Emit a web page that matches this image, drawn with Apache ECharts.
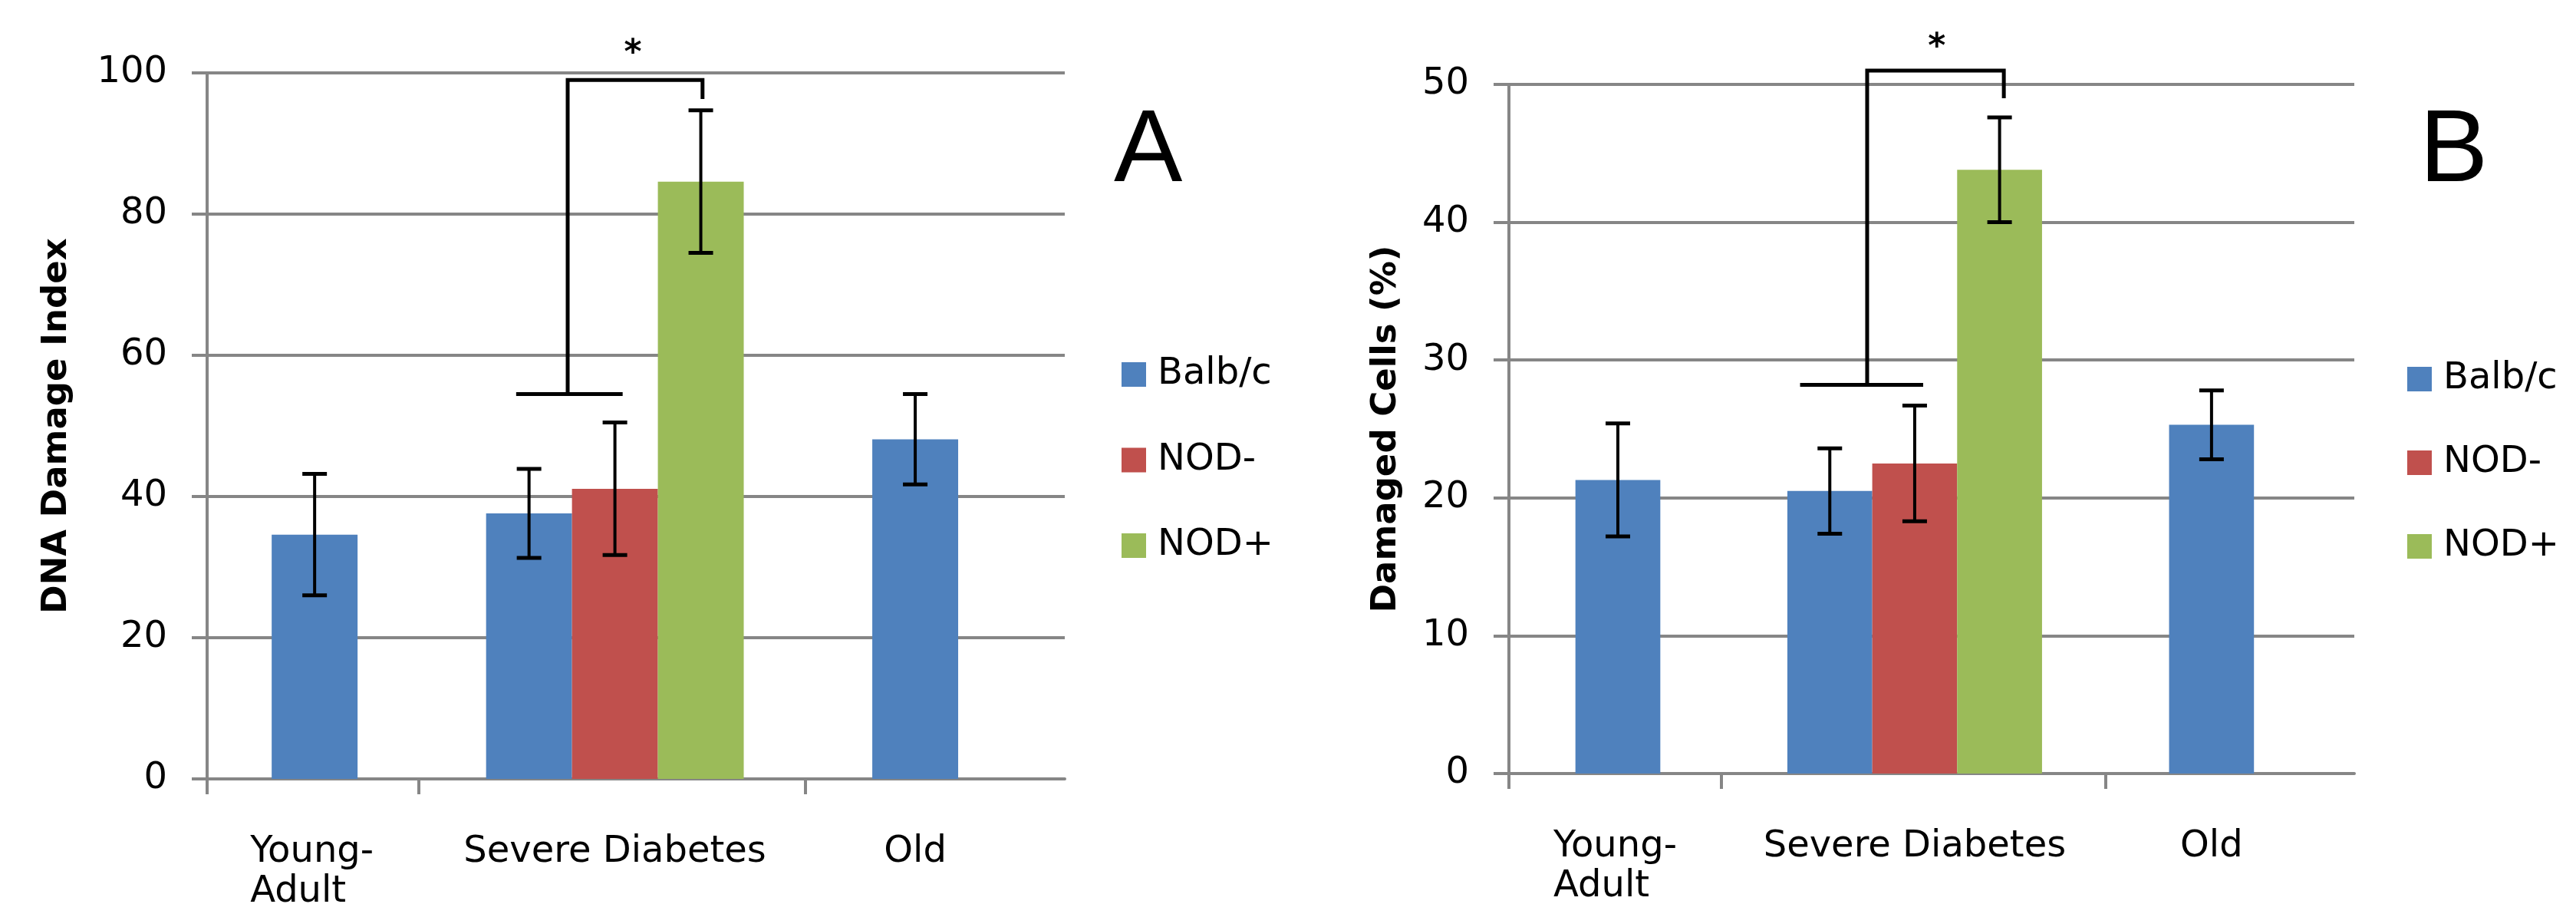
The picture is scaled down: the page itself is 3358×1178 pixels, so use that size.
<!DOCTYPE html>
<html>
<head>
<meta charset="utf-8">
<style>
  html, body { margin: 0; padding: 0; background: #fff; }
  #chart { width: 3358px; height: 1178px; }
</style>
<script src="https://cdn.jsdelivr.net/npm/echarts@6/dist/echarts.min.js"></script>
</head>
<body>
<div id="chart"></div>
<script>
// ---------------- DATA ----------------
const categories = ['Young-\nAdult', 'Severe Diabetes', 'Old'];
const seriesNames = ['Balb/c', 'NOD-', 'NOD+'];

// Panel A : DNA Damage Index (mean, error)
const dnaBalbc     = [34.6, 37.6, 48.1];
const dnaBalbcErr  = [8.6, 6.3, 6.4];
const dnaNodNeg    = [null, 41.1, null];
const dnaNodNegErr = [null, 9.4, null];
const dnaNodPos    = [null, 84.6, null];
const dnaNodPosErr = [null, 10.1, null];
const dnaTicks     = [0, 20, 40, 60, 80, 100];
// significance bracket: [lower bar level, top level, right leg end, star level]
const dnaSig       = [54.5, 99.0, 96.3, 103.5];

// Panel B : Damaged Cells (%)
const dmgBalbc     = [21.3, 20.5, 25.3];
const dmgBalbcErr  = [4.1, 3.1, 2.5];
const dmgNodNeg    = [null, 22.5, null];
const dmgNodNegErr = [null, 4.2, null];
const dmgNodPos    = [null, 43.8, null];
const dmgNodPosErr = [null, 3.8, null];
const dmgTicks     = [0, 10, 20, 30, 40, 50];
const dmgSig       = [28.2, 51.0, 49.0, 53.1];

const panelTitles = ['A', 'B'];
const yNames = ['DNA Damage Index', 'Damaged Cells (%)'];

// ---------------- STYLE / LAYOUT ----------------
const COLORS = ['#4F81BD', '#C0504D', '#9BBB59'];
const GRAY = '#868686';
const FONT = '"DejaVu Sans", sans-serif';
const BAR_W = 0.286;     // bar width in category units
const CAP = 16;          // half width of error cap (px)

const panels = [
  {
    vals: [dnaBalbc, dnaNodNeg, dnaNodPos],
    errs: [dnaBalbcErr, dnaNodNegErr, dnaNodPosErr],
    ticks: dnaTicks, sig: dnaSig,
    grid: { left: 270, top: 95, width: 1118, height: 920 },
    xMin: -0.358, xMax: 2.498, xTicks: [-0.358, 0.347, 1.635],
    sigX: { low0: -1.15, low1: 0.09, stem: -0.55, right: 1.02, star: 0.21 },
    nameGap: 173, nameSize: 45,
    legend: { left: 1462, top: 464, itemGap: 63.5 },
    title: { left: 1452, top: 132 }
  },
  {
    vals: [dmgBalbc, dmgNodNeg, dmgNodPos],
    errs: [dmgBalbcErr, dmgNodNegErr, dmgNodPosErr],
    ticks: dmgTicks, sig: dmgSig,
    grid: { left: 1967, top: 110, width: 1102, height: 898 },
    xMin: -0.367, xMax: 2.481, xTicks: [-0.367, 0.349, 1.643],
    sigX: { low0: -1.35, low1: 0.10, stem: -0.56, right: 1.05, star: 0.26 },
    nameGap: 137, nameSize: 45,
    legend: { left: 3138, top: 470, itemGap: 61 },
    title: { left: 3154, top: 132 }
  }
];

function barRenderer(vals, sIdx) {
  return function (params, api) {
    const ci = api.value(0), v = api.value(1), e = api.value(2);
    const present = [];
    vals.forEach((arr, k) => { if (arr[ci] != null) present.push(k); });
    const n = present.length, rank = present.indexOf(sIdx);
    const cx = ci + (rank - (n - 1) / 2) * BAR_W;
    const p0 = api.coord([cx - BAR_W / 2, v]);
    const p1 = api.coord([cx + BAR_W / 2, 0]);
    const t = api.coord([cx, v + e]);
    const b = api.coord([cx, v - e]);
    return {
      type: 'group',
      children: [
        { type: 'rect', shape: { x: p0[0], y: p0[1], width: p1[0] - p0[0], height: p1[1] - p0[1] },
          style: { fill: api.visual('color') } },
        { type: 'line', shape: { x1: t[0], y1: t[1], x2: b[0], y2: b[1] }, style: { stroke: '#000', lineWidth: 4 } },
        { type: 'line', shape: { x1: t[0] - CAP, y1: t[1], x2: t[0] + CAP, y2: t[1] }, style: { stroke: '#000', lineWidth: 5 } },
        { type: 'line', shape: { x1: b[0] - CAP, y1: b[1], x2: b[0] + CAP, y2: b[1] }, style: { stroke: '#000', lineWidth: 5 } }
      ]
    };
  };
}

function sigRenderer(sx) {
  return function (params, api) {
    const ci = api.value(0), low = api.value(1), top = api.value(2), rEnd = api.value(3), star = api.value(4);
    const a = api.coord([ci + sx.low0 * BAR_W, low]);
    const b = api.coord([ci + sx.low1 * BAR_W, low]);
    const s0 = api.coord([ci + sx.stem * BAR_W, low]);
    const s1 = api.coord([ci + sx.stem * BAR_W, top]);
    const r0 = api.coord([ci + sx.right * BAR_W, top]);
    const r1 = api.coord([ci + sx.right * BAR_W, rEnd]);
    const st = api.coord([ci + sx.star * BAR_W, star]);
    const ls = { stroke: '#000', lineWidth: 5, fill: null };
    return {
      type: 'group',
      children: [
        { type: 'line', shape: { x1: a[0], y1: a[1], x2: b[0], y2: b[1] }, style: ls },
        { type: 'polyline', shape: { points: [s0, s1, r0, r1] }, style: ls },
        { type: 'text', x: st[0], y: st[1] + 8,
          style: { text: '*', fill: '#000', font: 'bold 44px ' + FONT, align: 'center', verticalAlign: 'middle' } }
      ]
    };
  };
}

const option = {
  animation: false,
  backgroundColor: '#fff',
  title: panels.map((p, i) => ({
    text: panelTitles[i], left: p.title.left, top: p.title.top, padding: 0,
    textStyle: { fontFamily: '"Liberation Sans", Arial, sans-serif', fontSize: 134, fontWeight: 'normal', color: '#000' }
  })),
  legend: panels.map((p) => ({
    data: seriesNames.map(n => ({ name: n, icon: 'rect' })),
    orient: 'vertical', left: p.legend.left, top: p.legend.top, padding: 0,
    itemWidth: 32, itemHeight: 32, itemGap: p.legend.itemGap,
    textStyle: { fontFamily: FONT, fontSize: 48, lineHeight: 48, color: '#000', padding: [0, 0, 0, 10] }
  })),
  grid: panels.map(p => Object.assign({ containLabel: false, outerBoundsMode: 'none' }, p.grid)),
  xAxis: panels.map((p, i) => ({
    type: 'value', gridIndex: i, min: p.xMin, max: p.xMax,
    axisLine: { show: true, onZero: false, lineStyle: { color: GRAY, width: 4 } },
    axisTick: { show: true, length: 20, inside: false, customValues: p.xTicks, lineStyle: { color: GRAY, width: 4 } },
    splitLine: { show: false },
    axisLabel: {
      show: true, customValues: categories.map((c, k) => k), margin: 70,
      formatter: (v) => {
        const lbl = categories[Math.round(v)];
        if (lbl.indexOf('\n') >= 0) return lbl.split('\n').map(s => '{l|' + s + '}').join('\n');
        return lbl;
      },
      fontFamily: FONT, fontSize: 48, color: '#000', lineHeight: 52,
      rich: { l: { width: 168, align: 'left', fontFamily: FONT, fontSize: 48, lineHeight: 52, color: '#000' } }
    }
  })),
  yAxis: panels.map((p, i) => ({
    type: 'value', gridIndex: i,
    min: p.ticks[0], max: p.ticks[p.ticks.length - 1], interval: p.ticks[1] - p.ticks[0],
    name: yNames[i], nameLocation: 'middle', nameRotate: 90, nameGap: p.nameGap,
    nameTextStyle: { fontFamily: FONT, fontWeight: 'bold', fontSize: p.nameSize, color: '#000' },
    axisLine: { show: true, onZero: false, lineStyle: { color: GRAY, width: 4 } },
    axisTick: { show: true, length: 20, inside: false, lineStyle: { color: GRAY, width: 4 } },
    splitLine: { show: true, lineStyle: { color: GRAY, width: 4 } },
    axisLabel: { margin: 52, fontFamily: FONT, fontSize: 48, color: '#000' }
  })),
  series: []
};

panels.forEach((p, i) => {
  seriesNames.forEach((name, s) => {
    const data = [];
    p.vals[s].forEach((v, ci) => { if (v != null) data.push([ci, v, p.errs[s][ci]]); });
    option.series.push({
      type: 'custom', name: name, xAxisIndex: i, yAxisIndex: i,
      itemStyle: { color: COLORS[s] },
      encode: { x: 0, y: 1 }, clip: false,
      renderItem: barRenderer(p.vals, s),
      data: data
    });
  });
  option.series.push({
    type: 'custom', name: 'significance', xAxisIndex: i, yAxisIndex: i, clip: false, z: 5,
    encode: { x: 0, y: 1 }, silent: true,
    renderItem: sigRenderer(p.sigX),
    data: [[1].concat(p.sig)]
  });
});

const chart = echarts.init(document.getElementById('chart'), null, { renderer: 'canvas' });
chart.setOption(option);
</script>
</body>
</html>
